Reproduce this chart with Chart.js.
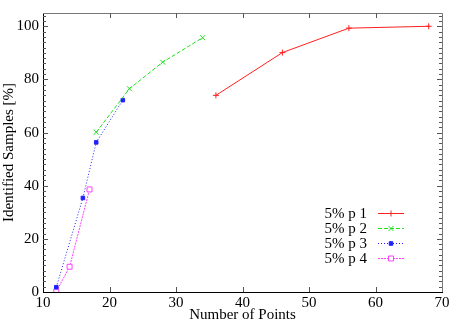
<!DOCTYPE html>
<html>
<head>
<meta charset="utf-8">
<script src="https://cdn.jsdelivr.net/npm/chart.js@4/dist/chart.umd.min.js"></script>
<style>
  html, body { margin: 0; padding: 0; background: #fff; }
  #wrap { width: 458px; height: 321px; }
</style>
</head>
<body>
<div id="wrap"><canvas id="chart"></canvas></div>
<script>
const seriesNames = ["5% p 1", "5% p 2", "5% p 3", "5% p 4"];
const p1X = [36, 46, 56, 68];
const p1Y = [74, 90.1, 99.3, 100];
const p2X = [18, 23, 28, 34];
const p2Y = [60.1, 76.5, 86.5, 95.7];
const p3X = [12, 16, 18, 22];
const p3Y = [1.8, 35.4, 56.3, 72.2];
const p4X = [12, 14, 17];
const p4Y = [0.2, 9.5, 38.6];
const xTicks = [10, 20, 30, 40, 50, 60, 70];
const yTicks = [0, 20, 40, 60, 80, 100];

const FONT = "'Liberation Serif', serif";

function pts(xs, ys) {
  return xs.map((x, i) => ({ x: x, y: ys[i] }));
}

/* frame with inward ticks, like gnuplot */
const framePlugin = {
  id: "frame",
  afterDatasetsDraw(chart) {
    const { ctx, chartArea: a, scales: { x, y } } = chart;
    ctx.save();
    ctx.lineWidth = 1;
    ctx.strokeStyle = "#777";
    ctx.beginPath();
    ctx.moveTo(a.left, a.top + 0.5);
    ctx.lineTo(a.right + 0.5, a.top + 0.5);
    ctx.lineTo(a.right + 0.5, a.bottom);
    ctx.stroke();

    ctx.strokeStyle = "#555";
    ctx.beginPath();
    xTicks.forEach(v => {
      const px = Math.round(x.getPixelForValue(v)) + 0.5;
      if (v === xTicks[0] || v === xTicks[xTicks.length - 1]) return;
      ctx.moveTo(px, a.bottom); ctx.lineTo(px, a.bottom - 5);
      ctx.moveTo(px, a.top); ctx.lineTo(px, a.top + 5);
    });
    for (let v = 2; v < 105; v += 2) {
      const py = Math.round(y.getPixelForValue(v)) + 0.5;
      const len = v % 20 === 0 ? 5 : 3;
      ctx.moveTo(a.left, py); ctx.lineTo(a.left + len, py);
      ctx.moveTo(a.right, py); ctx.lineTo(a.right - len, py);
    }
    ctx.stroke();
    ctx.restore();
  }
};

/* legend inside the plot: text on the left, sample on the right */
const keyPlugin = {
  id: "key",
  afterDraw(chart) {
    const ctx = chart.ctx;
    ctx.save();
    ctx.font = "15px " + FONT;
    ctx.textAlign = "right";
    ctx.textBaseline = "middle";
    chart.data.datasets.forEach((ds, i) => {
      const yy = 213 + i * 15;
      ctx.fillStyle = "#000";
      ctx.fillText(ds.label, 367, yy + 1);
      ctx.strokeStyle = ds.borderColor;
      ctx.lineWidth = ds.borderWidth;
      ctx.setLineDash(ds.borderDash || []);
      ctx.beginPath();
      ctx.moveTo(378, yy + 0.5); ctx.lineTo(404, yy + 0.5);
      ctx.stroke();
      ctx.setLineDash([]);
      ctx.fillStyle = ds.pointBackgroundColor;
      ctx.strokeStyle = ds.borderColor;
      Chart.helpers.drawPoint(ctx, {
        pointStyle: ds.pointStyle, radius: ds.pointRadius, borderWidth: 1
      }, 391, yy + 0.5);
    });
    ctx.restore();
  }
};

new Chart(document.getElementById("chart"), {
  type: "line",
  data: {
    datasets: [
      {
        label: seriesNames[0], data: pts(p1X, p1Y),
        borderColor: "#ff2020", borderWidth: 1,
        pointStyle: "cross", pointRadius: 3,
        pointBorderColor: "#ff2020", pointBackgroundColor: "#ff2020", pointBorderWidth: 1
      },
      {
        label: seriesNames[1], data: pts(p2X, p2Y),
        borderColor: "#20e020", borderWidth: 1, borderDash: [4, 2],
        pointStyle: "crossRot", pointRadius: 3.5,
        pointBorderColor: "#20e020", pointBackgroundColor: "#20e020", pointBorderWidth: 1
      },
      {
        label: seriesNames[2], data: pts(p3X, p3Y),
        borderColor: "#2020ff", borderWidth: 1, borderDash: [1, 2],
        pointStyle: "rect", pointRadius: 2.5,
        pointBorderColor: "#2020ff", pointBackgroundColor: "#2020ff", pointBorderWidth: 1
      },
      {
        label: seriesNames[3], data: pts(p4X, p4Y),
        borderColor: "#ff40ff", borderWidth: 1, borderDash: [2, 1],
        pointStyle: "rect", pointRadius: 3.5,
        pointBorderColor: "#ff40ff", pointBackgroundColor: "#fff", pointBorderWidth: 1
      }
    ]
  },
  options: {
    responsive: true,
    maintainAspectRatio: false,
    animation: false,
    layout: { padding: { top: 11, right: 16, left: 0, bottom: 0 } },
    plugins: { legend: { display: false }, tooltip: { enabled: false } },
    scales: {
      x: {
        type: "linear", min: 10, max: 70,
        afterBuildTicks: s => { s.ticks = xTicks.map(v => ({ value: v })); },
        grid: { display: false, drawTicks: false, tickLength: 0 },
        border: { display: true, color: "#000", width: 1 },
        ticks: { color: "#000", font: { family: FONT, size: 15 }, padding: 2, maxRotation: 0 },
        title: { display: true, text: "Number of Points", color: "#000",
                 font: { family: FONT, size: 15 }, padding: { top: 0, bottom: -3 } },
        afterFit: s => { s.height = 29; }
      },
      y: {
        type: "linear", min: 0, max: 105,
        afterBuildTicks: s => { s.ticks = yTicks.map(v => ({ value: v })); },
        grid: { display: false, drawTicks: false, tickLength: 0 },
        border: { display: true, color: "#000", width: 1 },
        ticks: { color: "#000", font: { family: FONT, size: 15 }, padding: 4 },
        title: { display: true, text: "Identified Samples [%]", color: "#000",
                 font: { family: FONT, size: 15 }, padding: { top: 0, bottom: 0 } },
        afterFit: s => { s.width = 43; }
      }
    }
  },
  plugins: [framePlugin, keyPlugin]
});
</script>
</body>
</html>
